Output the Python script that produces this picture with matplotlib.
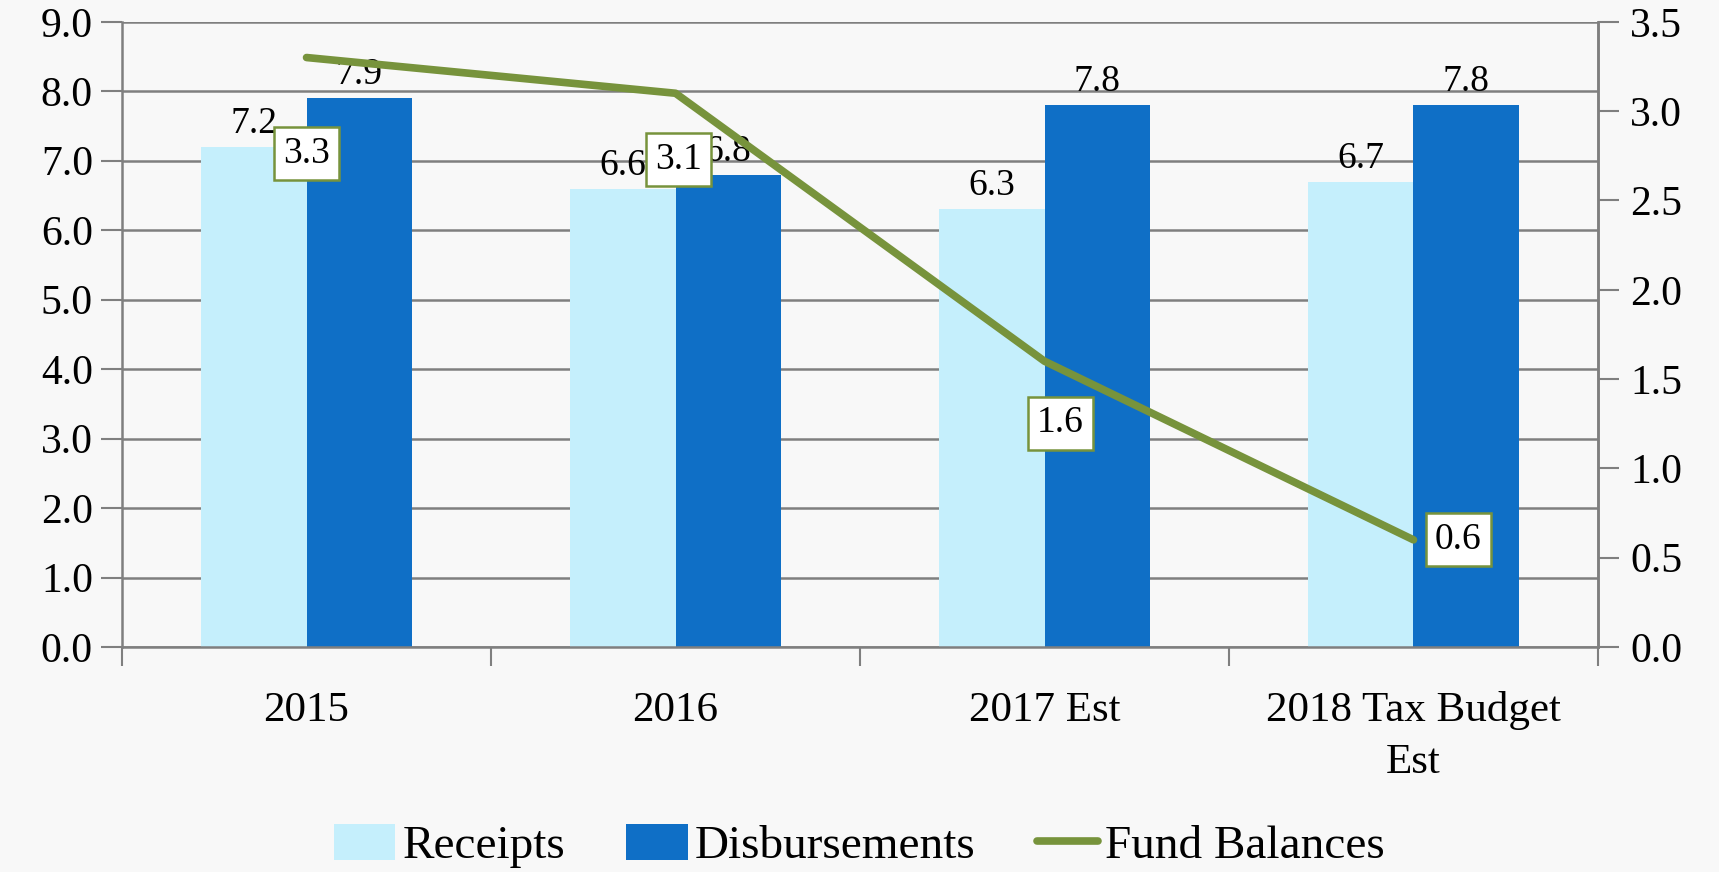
import matplotlib.pyplot as plt
import numpy as np

categories = ["2015", "2016", "2017 Est", "2018 Tax Budget\nEst"]
receipts = [7.2, 6.6, 6.3, 6.7]
disbursements = [7.9, 6.8, 7.8, 7.8]
fund_balances = [3.3, 3.1, 1.6, 0.6]

plt.rcParams['font.family'] = ['Liberation Serif', 'DejaVu Serif']

bg = "#f8f8f8"
grid_col = "#7f7f7f"
light = "#c5effc"
dark = "#0f6fc6"
green = "#77933c"

fig = plt.figure(figsize=(17.19, 8.72), dpi=100, facecolor=bg)
ax = fig.add_axes([0.071, 0.258, 0.8586, 0.717], facecolor=bg)

x = np.arange(len(categories))
w = 0.285
b1 = ax.bar(x - w / 2, receipts, w, color=light, label="Receipts", zorder=2)
b2 = ax.bar(x + w / 2, disbursements, w, color=dark, label="Disbursements", zorder=2)

for xi, v in zip(x - w / 2, receipts):
    ax.annotate(f"{v:.1f}", (xi, v), xytext=(0, 6), textcoords="offset pixels",
                ha="center", va="bottom", fontsize=27)
for xi, v in zip(x + w / 2, disbursements):
    ax.annotate(f"{v:.1f}", (xi, v), xytext=(0, 6), textcoords="offset pixels",
                ha="center", va="bottom", fontsize=27)

ax.set_xlim(-0.5, len(categories) - 0.5)
ax.set_ylim(0, 9)
ax.set_yticks(np.arange(0, 9.1, 1.0))
ax.set_yticklabels([f"{v:.1f}" for v in np.arange(0, 9.1, 1.0)], fontsize=30)
ax.yaxis.grid(True, color=grid_col, linewidth=1.8, zorder=0)
ax.set_axisbelow(True)

ax.set_xticks(x)
ax.set_xticklabels(categories, fontsize=31, linespacing=1.45)
ax.tick_params(axis="x", length=0, pad=32)
ax.set_xticks(np.arange(-0.5, len(categories), 1.0), minor=True)
ax.tick_params(axis="x", which="minor", length=14, width=1.5, color=grid_col, direction="out")
ax.tick_params(axis="y", length=15, width=1.5, color=grid_col, direction="out", pad=6)

ax.spines["top"].set_visible(False)
for s in ["left", "bottom", "right"]:
    ax.spines[s].set_color(grid_col)
    ax.spines[s].set_linewidth(1.8)

ax2 = ax.twinx()
ax2.set_ylim(0, 3.5)
ax2.set_yticks(np.arange(0, 3.6, 0.5))
ax2.set_yticklabels([f"{v:.1f}" for v in np.arange(0, 3.6, 0.5)], fontsize=30)
ax2.tick_params(axis="y", length=15, width=1.5, color=grid_col, direction="out", pad=8)
for s in ["top", "left", "bottom"]:
    ax2.spines[s].set_visible(False)
ax2.spines["right"].set_color(grid_col)
ax2.spines["right"].set_linewidth(1.8)

ln, = ax2.plot(x, fund_balances, color=green, linewidth=5.5, solid_capstyle="round",
               label="Fund Balances", zorder=3)

offsets = [(0, -96), (3, -66), (16, -62), (45, 0)]
for xi, v, off in zip(x, fund_balances, offsets):
    ax2.annotate(f"{v:.1f}", (xi, v), xytext=off, textcoords="offset pixels",
                 ha="center", va="center", fontsize=27, zorder=5,
                 bbox=dict(boxstyle="square,pad=0.25", fc="white", ec=green, lw=1.8))

fig.legend([b1, b2, ln], ["Receipts", "Disbursements", "Fund Balances"],
           loc="center", bbox_to_anchor=(0.5, 0.03), ncol=3, frameon=False,
           fontsize=34, handlelength=1.3, handleheight=0.8, columnspacing=1.3,
           handletextpad=0.15)

fig.savefig("out.png", dpi=100, facecolor=bg)
